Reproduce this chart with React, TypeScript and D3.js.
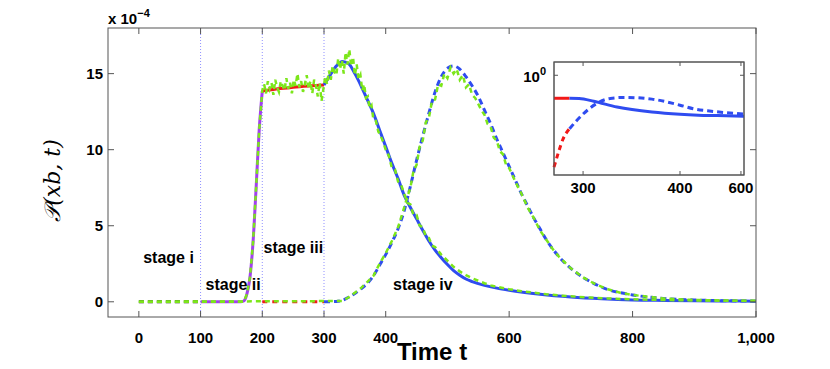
import React from "react";
import * as d3 from "d3";

// main curves, values in units of 1e-4
const stageLines = [100, 200, 300];
const xTicks = [0, 100, 200, 300, 400, 600, 800, 1000];
const yTicks = [0, 5, 10, 15];

const blackDashed: [number, number][] = [[0, 0], [100, 0]];
const redDashed: [number, number][] = [[200, 0], [300, 0]];

const purpleRise: [number, number][] = [
  [100, 0], [165, 0], [170, 0.05], [175, 0.5], [180, 1.6], [185, 3.9],
  [190, 7.5], [195, 11.3], [200, 13.85],
];

const redPlateau: [number, number][] = [
  [200, 13.85], [225, 14.0], [250, 14.1], [275, 14.18], [300, 14.25],
];

const blueSolid: [number, number][] = [
  [300, 14.25], [310, 14.9], [320, 15.5], [330, 15.8], [340, 15.65], [350, 15.0],
  [360, 14.2], [370, 13.3], [380, 12.4], [390, 11.3], [400, 10.2], [410, 9.1],
  [420, 8.1], [430, 7.0], [440, 6.2], [450, 5.45], [460, 4.7], [470, 4.0],
  [480, 3.4], [490, 2.9], [500, 2.45], [510, 2.05], [520, 1.75], [530, 1.5],
  [540, 1.33], [560, 1.08], [580, 0.9], [600, 0.76], [650, 0.5], [700, 0.32],
  [750, 0.2], [800, 0.12], [850, 0.09], [900, 0.07], [950, 0.05], [1000, 0.04],
];

const blueDashed: [number, number][] = [
  [300, 0], [320, 0.02], [330, 0.1], [340, 0.3], [350, 0.55], [360, 0.85],
  [370, 1.2], [380, 1.7], [390, 2.4], [400, 3.1], [410, 3.9], [420, 4.8],
  [430, 6.0], [440, 7.6], [450, 9.3], [460, 10.9], [470, 12.4], [480, 13.8],
  [490, 14.8], [500, 15.35], [510, 15.5], [520, 15.3], [530, 14.8], [540, 14.2],
  [550, 13.5], [560, 12.6], [570, 11.7], [580, 10.7], [590, 9.8], [600, 8.9],
  [610, 8.0], [620, 7.1], [630, 6.3], [640, 5.5], [650, 4.8], [660, 4.1],
  [680, 3.0], [700, 2.2], [720, 1.6], [740, 1.15], [760, 0.8], [780, 0.6],
  [800, 0.45], [850, 0.22], [900, 0.12], [950, 0.07], [1000, 0.04],
];

// simulated (noisy) results
const greenA: [number, number][] = [
  [0, 0], [170, 0], [175, 0.5], [180, 1.6], [185, 3.9], [190, 7.5], [195, 11.3],
  [200, 13.9], [203, 14.3], [206, 13.7], [209, 14.5], [212, 14.0], [215, 14.4],
  [218, 13.6], [221, 14.6], [224, 14.1], [227, 13.8], [230, 14.5], [233, 14.2],
  [236, 13.9], [239, 14.7], [242, 14.0], [245, 14.4], [248, 13.7], [251, 14.6],
  [254, 14.2], [257, 15.0], [260, 14.1], [263, 14.5], [266, 13.8], [269, 14.3],
  [272, 14.9], [275, 14.0], [278, 14.5], [281, 13.7], [284, 14.6], [287, 14.2],
  [290, 13.5], [293, 14.4], [296, 13.2], [299, 14.0], [302, 14.8], [305, 14.3],
  [308, 15.2], [311, 14.6], [314, 15.5], [317, 15.1], [320, 14.9], [323, 16.0],
  [326, 15.3], [329, 15.9], [332, 15.0], [335, 16.4], [338, 15.6], [341, 16.6],
  [344, 15.5], [347, 16.1], [350, 14.9], [353, 15.6], [356, 14.6], [359, 14.9],
  [362, 13.9], [365, 14.3], [368, 13.4], [371, 13.5], [374, 12.7], [377, 12.9],
  [380, 12.0], [384, 11.9], [388, 11.2], [392, 10.9], [396, 10.5], [400, 10.0],
  [405, 9.6], [410, 8.8], [415, 8.7], [420, 7.9], [425, 7.7], [430, 7.1],
  [435, 6.5], [440, 6.4], [445, 5.7], [450, 5.7], [455, 5.0], [460, 4.9],
  [465, 4.3], [470, 4.2], [475, 3.7], [480, 3.6], [490, 3.1], [500, 2.7],
  [510, 2.3], [520, 2.0], [530, 1.75], [540, 1.55], [550, 1.38], [560, 1.22],
  [570, 1.08], [580, 0.98], [600, 0.83], [620, 0.7], [640, 0.6], [660, 0.5],
  [680, 0.42], [700, 0.36], [730, 0.28], [760, 0.22], [800, 0.16], [850, 0.12],
  [900, 0.09], [950, 0.07], [1000, 0.06],
];

const greenB: [number, number][] = [
  [0, 0], [330, 0.05], [340, 0.3], [350, 0.6], [360, 0.9], [370, 1.3], [380, 1.7],
  [390, 2.5], [400, 3.2], [410, 4.0], [420, 4.9], [430, 6.2], [435, 6.9],
  [440, 7.5], [445, 8.6], [450, 9.0], [455, 10.2], [460, 10.6], [465, 11.8],
  [470, 12.1], [475, 13.2], [480, 13.3], [485, 14.3], [490, 14.2], [495, 15.0],
  [500, 14.7], [505, 15.4], [510, 15.0], [515, 15.3], [520, 14.6], [525, 14.9],
  [530, 14.1], [535, 14.3], [540, 13.6], [545, 13.4], [550, 13.0], [555, 12.6],
  [560, 12.3], [565, 11.7], [570, 11.5], [575, 10.8], [580, 10.6], [585, 9.9],
  [590, 9.7], [595, 9.0], [600, 8.8], [610, 7.9], [620, 7.1], [630, 6.2],
  [640, 5.5], [650, 4.7], [660, 4.1], [670, 3.5], [680, 3.0], [690, 2.6],
  [700, 2.2], [720, 1.6], [740, 1.15], [760, 0.82], [780, 0.6], [800, 0.45],
  [850, 0.22], [900, 0.12], [950, 0.08], [1000, 0.05],
];

// inset (log y)
const insetXTicks = [300, 400, 600];
const insetRedSolid: [number, number][] = [[270, 0.785], [286, 0.785]];
const insetRedDashed: [number, number][] = [[270, 0.38], [275, 0.45], [279, 0.507], [286, 0.57]];
const insetBlueSolid: [number, number][] = [
  [286, 0.785], [296, 0.783], [311, 0.761], [335, 0.716], [371, 0.679],
  [400, 0.663], [460, 0.657], [523, 0.654], [610, 0.649],
];
const insetBlueDashed: [number, number][] = [
  [286, 0.57], [300, 0.665], [314, 0.742], [328, 0.784], [343, 0.792],
  [371, 0.778], [400, 0.73], [450, 0.7], [503, 0.685], [610, 0.665],
];

const W = 830;
const H = 369;
const M = { left: 108, right: 756, top: 28, bottom: 317 };

const BLUE = "#2f4cf0";
const GREEN = "#7ce61a";
const RED = "#f21818";
const PURPLE = "#a23ff0";
const AXIS = "#555";
const FONT = "Liberation Sans, Arial, Helvetica, sans-serif";

export default function App() {
  const x = d3.scaleLinear().domain([-50, 1000]).range([M.left, M.right]);
  const y = d3.scaleLinear().domain([-1, 18]).range([M.bottom, M.top]);

  const line = d3
    .line<[number, number]>()
    .x((d) => x(d[0]))
    .y((d) => y(d[1]));
  const smooth = d3
    .line<[number, number]>()
    .x((d) => x(d[0]))
    .y((d) => y(d[1]))
    .curve(d3.curveMonotoneX);

  const ix = d3.scaleLinear().domain([270, 400, 610]).range([554, 680, 744]);
  const iy = d3.scaleLog().domain([0.35, 1.15]).range([175, 62]);
  const iline = d3
    .line<[number, number]>()
    .x((d) => ix(d[0]))
    .y((d) => iy(d[1]))
    .curve(d3.curveMonotoneX);

  const fmt = (v: number) => d3.format(",")(v);

  return (
    <div style={{ position: "fixed", left: 0, top: 0 }}>
      <svg width={W} height={H} style={{ display: "block", background: "white" }}>
        {/* stage separators */}
        {stageLines.map((s) => (
          <line key={s} x1={x(s)} x2={x(s)} y1={M.top} y2={M.bottom}
            stroke="#9090ff" strokeWidth={1} strokeDasharray="1,2" />
        ))}

        <path d={line(blackDashed)!} fill="none" stroke="#111" strokeWidth={3} strokeDasharray="5,4" />
        <path d={smooth(purpleRise)!} fill="none" stroke={PURPLE} strokeWidth={3} />
        <path d={line(redDashed)!} fill="none" stroke={RED} strokeWidth={3} strokeDasharray="5,5" />
        <path d={smooth(redPlateau)!} fill="none" stroke={RED} strokeWidth={3} />
        <path d={smooth(blueDashed)!} fill="none" stroke={BLUE} strokeWidth={3} strokeDasharray="6,4" />
        <path d={smooth(blueSolid)!} fill="none" stroke={BLUE} strokeWidth={3} />
        <path d={line(greenA)!} fill="none" stroke={GREEN} strokeWidth={2.5} strokeDasharray="5,4" />
        <path d={line(greenB)!} fill="none" stroke={GREEN} strokeWidth={2.5} strokeDasharray="5,4" />

        {/* axes box */}
        <rect x={M.left} y={M.top} width={M.right - M.left} height={M.bottom - M.top}
          fill="none" stroke={AXIS} strokeWidth={1} />
        {xTicks.map((t) => (
          <g key={t}>
            <line x1={x(t)} x2={x(t)} y1={M.bottom} y2={M.bottom - 6} stroke={AXIS} />
            <line x1={x(t)} x2={x(t)} y1={M.top} y2={M.top + 6} stroke={AXIS} />
            <text x={x(t)} y={M.bottom + 26} textAnchor="middle" fontFamily={FONT}
              fontWeight="bold" fontSize={15}>{fmt(t)}</text>
          </g>
        ))}
        {yTicks.map((t) => (
          <g key={t}>
            <line x1={M.left} x2={M.left + 6} y1={y(t)} y2={y(t)} stroke={AXIS} />
            <line x1={M.right} x2={M.right - 6} y1={y(t)} y2={y(t)} stroke={AXIS} />
            <text x={M.left - 5} y={y(t)} dy="0.36em" textAnchor="end" fontFamily={FONT}
              fontWeight="bold" fontSize={15}>{t}</text>
          </g>
        ))}
        <text x={M.left} y={24} fontFamily={FONT} fontWeight="bold" fontSize={15}>
          x 10<tspan dy={-7} fontSize={11}>−4</tspan>
        </text>

        <text transform={`translate(60,${(M.top + M.bottom) / 2 + 8}) rotate(-90)`}
          textAnchor="middle" fontFamily="DejaVu Serif, Liberation Serif, serif"
          fontStyle="italic" fontSize={22}>
          𝒫(xb, t)
        </text>
        <text x={(M.left + M.right) / 2} y={360} textAnchor="middle" fontFamily={FONT}
          fontWeight="bold" fontSize={24}>Time t</text>

        {/* stage labels */}
        <text x={x(7)} y={263} fontFamily={FONT} fontWeight="bold" fontSize={16}>stage i</text>
        <text x={x(108)} y={290} fontFamily={FONT} fontWeight="bold" fontSize={16}>stage ii</text>
        <text x={x(202)} y={253} fontFamily={FONT} fontWeight="bold" fontSize={16}>stage iii</text>
        <text x={x(412)} y={290} fontFamily={FONT} fontWeight="bold" fontSize={16}>stage iv</text>

        {/* inset */}
        <rect x={ix(270)} y={62} width={ix(610) - ix(270)} height={113} fill="white"
          stroke={AXIS} strokeWidth={1} />
        <path d={iline(insetRedSolid)!} fill="none" stroke={RED} strokeWidth={3} />
        <path d={iline(insetRedDashed)!} fill="none" stroke={RED} strokeWidth={3} strokeDasharray="5,4" />
        <path d={iline(insetBlueDashed)!} fill="none" stroke={BLUE} strokeWidth={3} strokeDasharray="6,4" />
        <path d={iline(insetBlueSolid)!} fill="none" stroke={BLUE} strokeWidth={3} />
        <rect x={ix(270)} y={62} width={ix(610) - ix(270)} height={113} fill="none"
          stroke={AXIS} strokeWidth={1} />
        {insetXTicks.map((t) => (
          <g key={t}>
            <line x1={ix(t)} x2={ix(t)} y1={175} y2={171} stroke={AXIS} />
            <line x1={ix(t)} x2={ix(t)} y1={62} y2={66} stroke={AXIS} />
            <text x={ix(t)} y={193} textAnchor="middle" fontFamily={FONT}
              fontWeight="bold" fontSize={15}>{t}</text>
          </g>
        ))}
        <line x1={ix(270)} x2={ix(270) + 4} y1={iy(1)} y2={iy(1)} stroke={AXIS} />
        <line x1={ix(610)} x2={ix(610) - 4} y1={iy(1)} y2={iy(1)} stroke={AXIS} />
        <text x={ix(270) - 8} y={iy(1) + 7} textAnchor="end" fontFamily={FONT}
          fontWeight="bold" fontSize={15}>
          10<tspan dy={-7} fontSize={11}>0</tspan>
        </text>
      </svg>
    </div>
  );
}
